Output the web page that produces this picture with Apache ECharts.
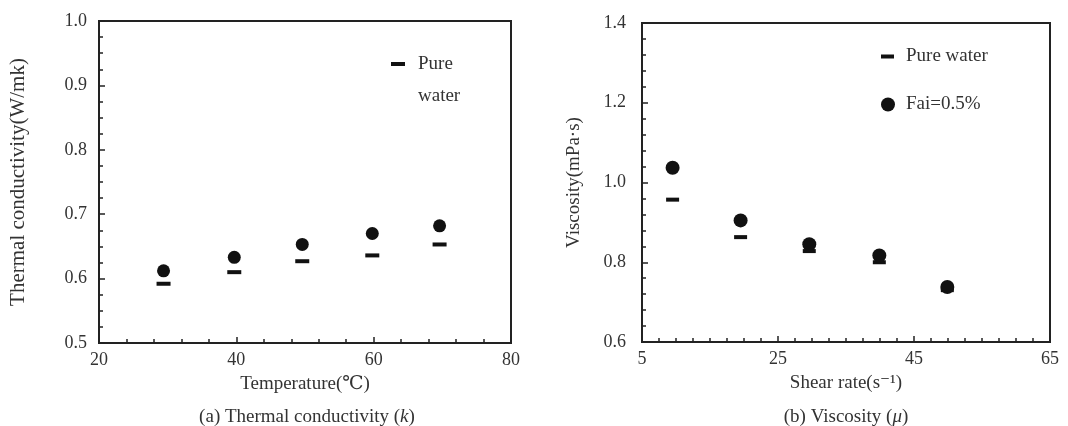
<!DOCTYPE html>
<html>
<head>
<meta charset="utf-8">
<script src="https://cdn.jsdelivr.net/npm/echarts@6/dist/echarts.min.js"></script>
<style>
  html, body { margin: 0; padding: 0; background: #fff; }
  #chart { width: 1068px; height: 426px; }
</style>
</head>
<body>
<div id="chart"></div>
<script>
// (a) Thermal conductivity vs temperature
const temperature = [29.4, 39.7, 49.6, 59.8, 69.6];
const kPureWater = [0.592, 0.610, 0.627, 0.636, 0.653];
const kFai05 = [0.612, 0.633, 0.653, 0.670, 0.682];

// (b) Viscosity vs shear rate
const shearRate = [9.5, 19.5, 29.6, 39.9, 49.9];
const muPureWater = [0.957, 0.863, 0.828, 0.800, 0.730];
const muFai05 = [1.037, 0.905, 0.845, 0.817, 0.738];

const SERIF = '"Liberation Serif", "DejaVu Serif", serif';
const INK = '#111';
const AXIS = '#222';
const TEXT = '#333';

// Short bar sitting level with the first line of a two-line legend label
// (the lone move-to points only widen the icon box to 14 x 64).
const DASH_FIRST_LINE = 'path://M0,0 M14,64 M0,14 L14,14 L14,18 L0,18 Z';

function pairs(xs, ys) { return xs.map((x, i) => [x, ys[i]]); }

function valueAxis(gridIndex, min, max, interval, minorSplit, decimals, labelMargin, extra) {
  return Object.assign({
    type: 'value', gridIndex, min, max, interval,
    axisLine: { show: true, lineStyle: { color: AXIS, width: 2 } },
    axisTick: { show: true, inside: true, length: 6, lineStyle: { color: AXIS, width: 1.5 } },
    minorTick: { show: true, splitNumber: minorSplit, length: 4, lineStyle: { color: AXIS, width: 1.5 } },
    splitLine: { show: false },
    axisLabel: {
      color: TEXT, fontFamily: SERIF, fontSize: 18, margin: labelMargin,
      formatter: v => decimals ? v.toFixed(decimals) : String(v)
    },
    nameTextStyle: { color: TEXT, fontFamily: SERIF, fontSize: 19 },
    nameLocation: 'middle'
  }, extra);
}

const legendText = { color: TEXT, fontFamily: SERIF, fontSize: 19 };

const chart = echarts.init(document.getElementById('chart'), null, { renderer: 'canvas' });

chart.setOption({
  animation: false,
  backgroundColor: '#fff',
  grid: [
    { left: 99, top: 21, width: 412, height: 322, show: true, borderColor: AXIS, borderWidth: 2 },
    { left: 642, top: 23, width: 408, height: 319, show: true, borderColor: AXIS, borderWidth: 2 }
  ],
  xAxis: [
    valueAxis(0, 20, 80, 20, 5, 0, 8, { name: 'Temperature(\u2103)', nameGap: 32 }),
    valueAxis(1, 5, 65, 20, 8, 0, 8, { name: 'Shear rate(s\u207B\u00B9)', nameGap: 32 })
  ],
  yAxis: [
    valueAxis(0, 0.5, 1.0, 0.1, 4, 1, 12, {
      name: 'Thermal conductivity(W/mk)', nameGap: 70,
      nameTextStyle: { color: TEXT, fontFamily: SERIF, fontSize: 21 }
    }),
    valueAxis(1, 0.6, 1.4, 0.2, 5, 1, 16, {
      name: 'Viscosity(mPa\u00B7s)', nameGap: 58,
      nameTextStyle: { color: TEXT, fontFamily: SERIF, fontSize: 19 }
    })
  ],
  legend: [
    {
      data: ['Pure water'], left: 386, top: 43,
      icon: DASH_FIRST_LINE, itemWidth: 14, itemHeight: 64,
      textStyle: Object.assign({ lineHeight: 32, padding: [0, 0, 0, 8] }, legendText),
      formatter: () => 'Pure\nwater', selectedMode: false
    },
    {
      data: ['Pure water'], left: 876, top: 42,
      icon: 'rect', itemWidth: 13, itemHeight: 4,
      textStyle: Object.assign({ padding: [0, 0, 0, 7] }, legendText), selectedMode: false
    },
    {
      data: ['Fai=0.5%'], left: 876, top: 90,
      icon: 'circle', itemWidth: 14, itemHeight: 14,
      textStyle: Object.assign({ padding: [0, 0, 0, 6] }, legendText), selectedMode: false
    }
  ],
  series: [
    {
      name: 'Pure water', type: 'scatter', xAxisIndex: 0, yAxisIndex: 0,
      symbol: 'rect', symbolSize: [14, 4], itemStyle: { color: INK, opacity: 1 },
      data: pairs(temperature, kPureWater)
    },
    {
      name: 'Fai=0.5%', type: 'scatter', xAxisIndex: 0, yAxisIndex: 0,
      symbol: 'circle', symbolSize: 13, itemStyle: { color: INK, opacity: 1 },
      data: pairs(temperature, kFai05)
    },
    {
      name: 'Pure water', type: 'scatter', xAxisIndex: 1, yAxisIndex: 1,
      symbol: 'rect', symbolSize: [13, 4], itemStyle: { color: INK, opacity: 1 },
      data: pairs(shearRate, muPureWater)
    },
    {
      name: 'Fai=0.5%', type: 'scatter', xAxisIndex: 1, yAxisIndex: 1,
      symbol: 'circle', symbolSize: 14, itemStyle: { color: INK, opacity: 1 },
      data: pairs(shearRate, muFai05)
    }
  ],
  graphic: [
    {
      type: 'text', x: 307, y: 417,
      style: {
        text: '{r|(a) Thermal conductivity (}{i|k}{r|)}',
        align: 'center', verticalAlign: 'middle',
        rich: {
          r: { fontFamily: SERIF, fontSize: 19, fill: TEXT },
          i: { fontFamily: SERIF, fontSize: 19, fontStyle: 'italic', fill: TEXT }
        }
      }
    },
    {
      type: 'text', x: 846, y: 417,
      style: {
        text: '{r|(b) Viscosity (}{i|\u03BC}{r|)}',
        align: 'center', verticalAlign: 'middle',
        rich: {
          r: { fontFamily: SERIF, fontSize: 19, fill: TEXT },
          i: { fontFamily: SERIF, fontSize: 19, fontStyle: 'italic', fill: TEXT }
        }
      }
    }
  ]
});
</script>
</body>
</html>
